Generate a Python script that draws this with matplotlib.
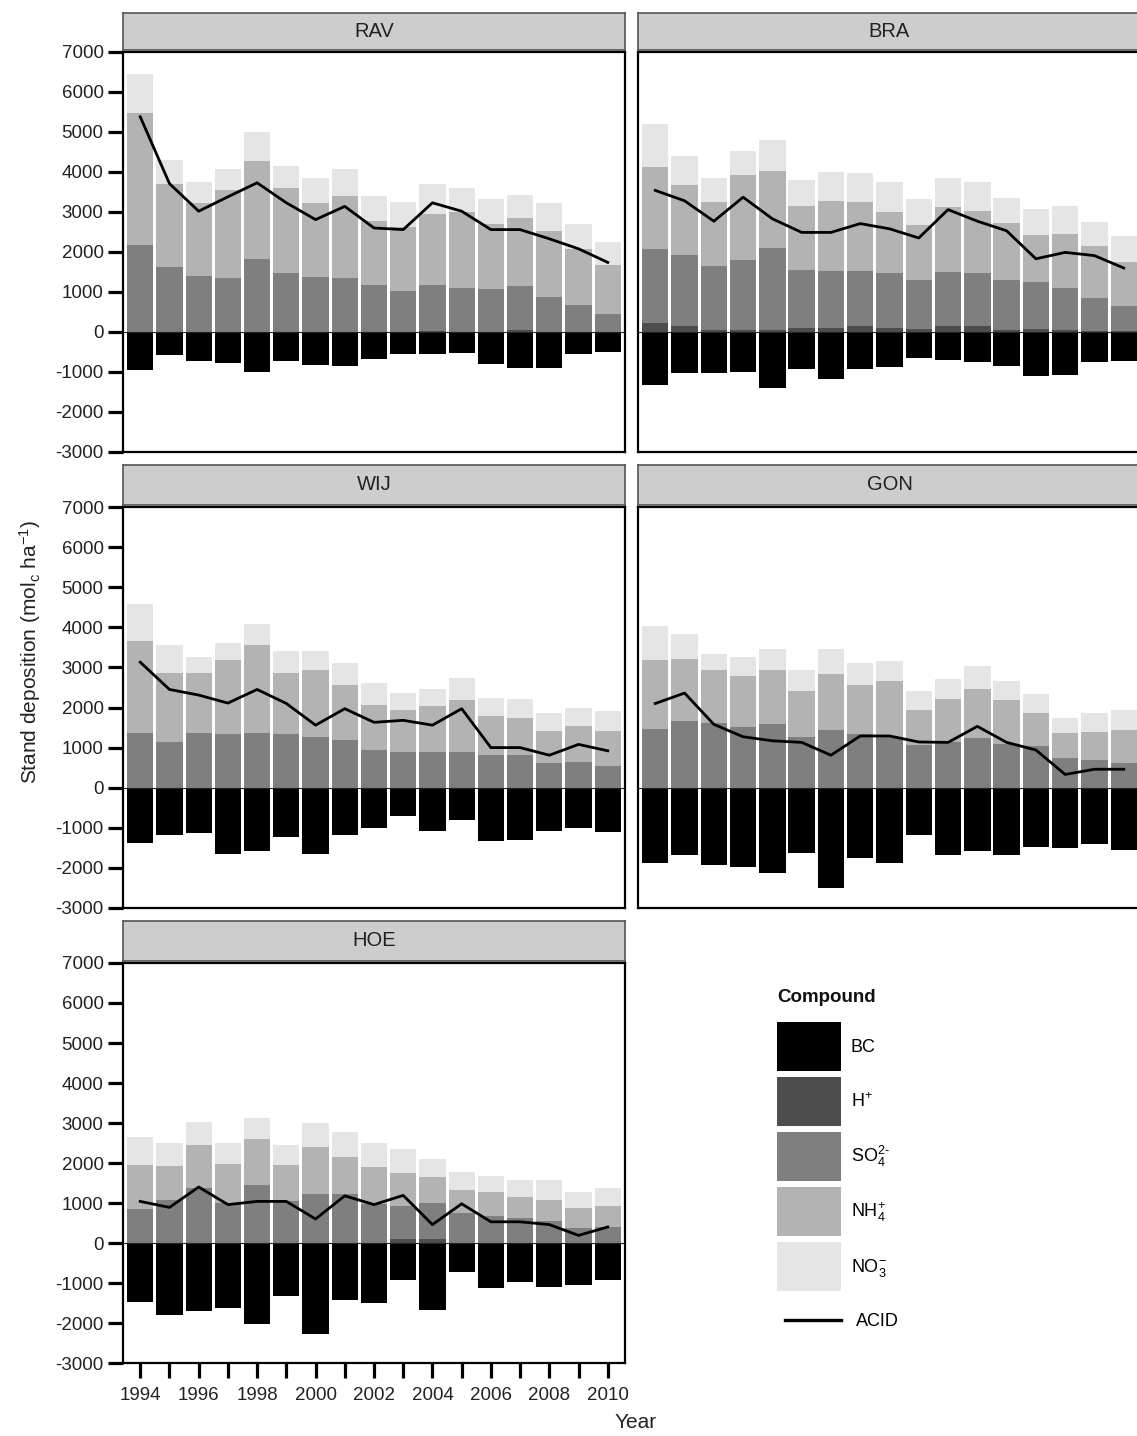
import numpy as np
import matplotlib
matplotlib.use("Agg")
import matplotlib.pyplot as plt
from matplotlib.patches import Patch
from matplotlib.lines import Line2D

plt.rcParams['font.family'] = ['Liberation Sans', 'DejaVu Sans']
plt.rcParams['mathtext.fontset'] = 'custom'
plt.rcParams['mathtext.rm'] = 'Liberation Sans'
plt.rcParams['mathtext.it'] = 'Liberation Sans:italic'
plt.rcParams['mathtext.bf'] = 'Liberation Sans:bold'

years = list(range(1994, 2011))
sites = ["RAV", "BRA", "WIJ", "GON", "HOE"]
compounds = ["BC", "H+", "SO4", "NH4", "NO3"]
y_ticks = [-3000, -2000, -1000, 0, 1000, 2000, 3000, 4000, 5000, 6000, 7000]
x_ticklabels = ["1994", "1996", "1998", "2000", "2002", "2004", "2006", "2008", "2010"]

# ---- RAV ----
rav_h   = [0, 0, 0, 0, 0, 0, 0, 0, 0, 0, 30, 0, 0, 60, 0, 0, 0]
rav_so4 = [2180, 1630, 1410, 1360, 1830, 1480, 1370, 1340, 1170, 1030, 1140, 1100, 1080, 1080, 880, 670, 440]
rav_nh4 = [3290, 2080, 1820, 2200, 2450, 2130, 1860, 2050, 1610, 1590, 1790, 1900, 1620, 1710, 1640, 1410, 1240]
rav_no3 = [990, 600, 520, 520, 720, 550, 620, 690, 610, 640, 740, 600, 620, 580, 700, 620, 570]
rav_bc  = [-940, -580, -730, -780, -1010, -730, -830, -840, -680, -550, -550, -530, -790, -900, -900, -550, -510]
rav_acid = [5380, 3710, 3020, 3380, 3730, 3230, 2810, 3140, 2600, 2560, 3230, 3020, 2560, 2560, 2330, 2080, 1740]

# ---- BRA ----
bra_h   = [225, 160, 60, 60, 60, 100, 100, 140, 100, 75, 160, 160, 60, 75, 60, 30, 30]
bra_so4 = [1855, 1760, 1580, 1740, 2050, 1450, 1430, 1390, 1380, 1215, 1340, 1320, 1230, 1165, 1040, 830, 610]
bra_nh4 = [2050, 1760, 1600, 2130, 1910, 1590, 1740, 1710, 1520, 1380, 1630, 1550, 1430, 1180, 1350, 1280, 1100]
bra_no3 = [1060, 730, 610, 600, 770, 650, 740, 740, 750, 660, 720, 720, 640, 650, 700, 620, 650]
bra_bc  = [-1330, -1030, -1030, -1010, -1400, -930, -1170, -930, -870, -650, -710, -750, -840, -1110, -1070, -750, -730]
bra_acid = [3540, 3280, 2770, 3370, 2830, 2490, 2490, 2710, 2580, 2350, 3060, 2770, 2530, 1830, 1990, 1910, 1600]

# ---- WIJ ----
wij_h   = [0] * 17
wij_so4 = [1370, 1150, 1370, 1340, 1370, 1340, 1270, 1190, 940, 880, 880, 880, 810, 810, 620, 650, 550]
wij_nh4 = [2280, 1700, 1480, 1850, 2200, 1510, 1660, 1380, 1120, 1060, 1160, 1310, 980, 930, 800, 880, 870]
wij_no3 = [940, 700, 420, 430, 520, 570, 490, 550, 540, 410, 410, 550, 440, 470, 450, 450, 500]
wij_bc  = [-1390, -1180, -1140, -1660, -1580, -1240, -1660, -1180, -1000, -710, -1070, -800, -1340, -1300, -1090, -1010, -1110]
wij_acid = [3130, 2450, 2310, 2110, 2450, 2100, 1560, 1970, 1630, 1680, 1560, 1970, 1000, 1000, 810, 1080, 920]

# ---- GON ----
gon_h   = [0] * 17
gon_so4 = [1460, 1660, 1620, 1510, 1580, 1270, 1450, 1340, 1270, 1060, 1130, 1230, 1080, 1050, 730, 680, 620]
gon_nh4 = [1720, 1560, 1310, 1280, 1350, 1150, 1390, 1230, 1380, 880, 1080, 1220, 1110, 810, 640, 710, 820]
gon_no3 = [850, 620, 400, 480, 520, 520, 610, 550, 520, 470, 500, 590, 470, 470, 380, 470, 490]
gon_bc  = [-1870, -1680, -1930, -1990, -2130, -1620, -2490, -1750, -1880, -1190, -1680, -1590, -1690, -1470, -1500, -1400, -1550]
gon_acid = [2100, 2360, 1580, 1270, 1170, 1130, 810, 1290, 1290, 1140, 1130, 1530, 1130, 940, 330, 460, 460]

# ---- HOE ----
hoe_h   = [0, 0, 0, 0, 0, 0, 0, 0, 0, 110, 110, 0, 0, 0, 0, 0, 0]
hoe_so4 = [850, 1080, 1380, 1000, 1440, 1040, 1230, 1230, 980, 810, 880, 750, 680, 630, 540, 370, 390]
hoe_nh4 = [1090, 850, 1080, 980, 1160, 900, 1180, 910, 930, 840, 650, 580, 600, 530, 540, 500, 530]
hoe_no3 = [710, 560, 560, 510, 530, 520, 580, 640, 600, 580, 460, 450, 400, 420, 500, 410, 460]
hoe_bc  = [-1480, -1790, -1690, -1630, -2020, -1320, -2280, -1420, -1500, -920, -1670, -730, -1130, -980, -1100, -1060, -920]
hoe_acid = [1040, 890, 1400, 960, 1040, 1040, 600, 1180, 960, 1190, 460, 980, 530, 530, 460, 190, 400]

site_data = {
    "RAV": (rav_h, rav_so4, rav_nh4, rav_no3, rav_bc, rav_acid),
    "BRA": (bra_h, bra_so4, bra_nh4, bra_no3, bra_bc, bra_acid),
    "WIJ": (wij_h, wij_so4, wij_nh4, wij_no3, wij_bc, wij_acid),
    "GON": (gon_h, gon_so4, gon_nh4, gon_no3, gon_bc, gon_acid),
    "HOE": (hoe_h, hoe_so4, hoe_nh4, hoe_no3, hoe_bc, hoe_acid),
}

colors = {"BC": "#000000", "H+": "#4d4d4d", "SO4": "#7f7f7f", "NH4": "#b3b3b3", "NO3": "#e5e5e5"}

W, H = 1137, 1436
fig = plt.figure(figsize=(W / 100, H / 100), dpi=100)

def rect(l, t, r, b):
    return [l / W, 1 - b / H, (r - l) / W, (b - t) / H]

# pixel layout: (left, top, right, bottom) of panel, and strip top
layout = {
    "RAV": (123, 52, 625, 452, 13),
    "BRA": (638, 52, 1141, 452, 13),
    "WIJ": (123, 507, 625, 908, 465),
    "GON": (638, 507, 1141, 908, 465),
    "HOE": (123, 963, 625, 1363, 921),
}

for site in sites:
    l, t, r, b, st = layout[site]
    ax = fig.add_axes(rect(l, t, r, b))
    h, so4, nh4, no3, bc, acid = [np.array(v, dtype=float) for v in site_data[site]]
    x = np.array(years)
    w = 0.9
    ax.bar(x, bc, width=w, color=colors["BC"], linewidth=0)
    ax.bar(x, h, width=w, color=colors["H+"], linewidth=0)
    ax.bar(x, so4, width=w, bottom=h, color=colors["SO4"], linewidth=0)
    ax.bar(x, nh4, width=w, bottom=h + so4, color=colors["NH4"], linewidth=0)
    ax.bar(x, no3, width=w, bottom=h + so4 + nh4, color=colors["NO3"], linewidth=0)
    ax.axhline(0, color="#222222", lw=0.8, zorder=3)
    ax.plot(x, acid, color="black", lw=2.0, zorder=4, solid_joinstyle="round")
    ax.set_xlim(1993.41, 2010.59)
    ax.set_ylim(-3000, 7000)
    for sp in ax.spines.values():
        sp.set_linewidth(1.6)
        sp.set_color("black")
    if site in ("RAV", "WIJ", "HOE"):
        ax.set_yticks(y_ticks)
        ax.set_yticklabels([str(v) for v in y_ticks])
        ax.tick_params(axis="y", length=11, width=2.3, labelsize=13.5, colors="black",
                       labelcolor="#222222", pad=3)
    else:
        ax.set_yticks([])
    if site == "HOE":
        ax.set_xticks(years)
        ax.set_xticklabels([str(yy) if str(yy) in x_ticklabels else "" for yy in years])
        ax.tick_params(axis="x", length=11, width=2.3, labelsize=13.5, labelcolor="#222222", pad=6)
    else:
        ax.set_xticks([])
    # strip
    sax = fig.add_axes(rect(l, st, r, t - 2))
    sax.set_facecolor("#cdcdcd")
    sax.set_xticks([]); sax.set_yticks([])
    for sp in sax.spines.values():
        sp.set_linewidth(1.2)
        sp.set_color("#555555")
    sax.text(0.5, 0.5, site, ha="center", va="center", fontsize=14.5, color="#222222",
             transform=sax.transAxes)

fig.text(30 / W, 1 - 652 / H, r"Stand deposition (mol$_\mathregular{c}$ ha$^{\mathregular{-1}}$)",
         rotation=90, ha="center", va="center", fontsize=15, color="#222222")
fig.text(657 / W, 1 - 1422 / H, "Year", ha="right", va="center", fontsize=15, color="#222222")

labels = ["BC", r"H$^{+}$", r"SO$_4^{2\text{-}}$", r"NH$_4^{+}$", r"NO$_3^{-}$"]
handles = [Patch(facecolor=colors[c], edgecolor="none") for c in compounds]
leg = fig.legend(handles, labels, loc="upper left", bbox_to_anchor=(763 / W, 1 - 1008 / H),
                 frameon=False, fontsize=13, handlelength=3.5, handleheight=3.8,
                 labelspacing=0.33, handletextpad=0.55, borderpad=0.3)
fig.text(777 / W, 1 - 997 / H, "Compound", ha="left", va="center", fontsize=13.5,
         fontweight="bold", color="#111111")
leg2 = fig.legend([Line2D([0], [0], color="black", lw=2.4)], ["ACID"], loc="center left",
                  bbox_to_anchor=(776 / W, 1 - 1322 / H), frameon=False, fontsize=13,
                  handlelength=3.1, handletextpad=0.85, borderpad=0.0)

fig.savefig("out.png", dpi=100)
